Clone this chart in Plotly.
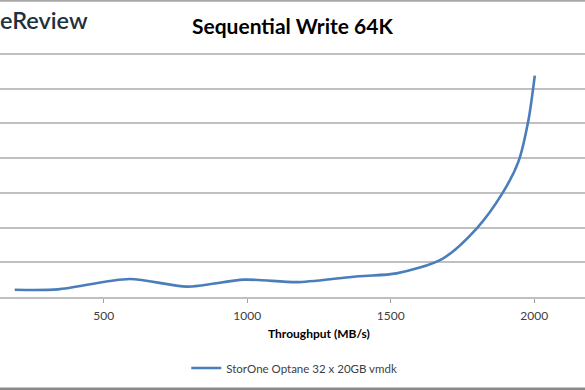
import plotly.graph_objects as go

# Data
throughput = [190, 340, 590, 790, 990, 1180, 1390, 1520, 1680, 1800, 1890, 1945, 1980, 2002]
latency = [0.105, 0.11, 0.26, 0.15, 0.25, 0.215, 0.30, 0.34, 0.55, 0.99, 1.50, 1.95, 2.55, 3.19]
series_name = "StorOne Optane 32 x 20GB vmdk"
x_ticks = [500, 1000, 1500, 2000]
y_grid = [0.5, 1, 1.5, 2, 2.5, 3, 3.5]

W, H = 585, 390
y_max = 3.53
top_px = 54.7 - (y_max - 3.5) / 3.5 * (297.3 - 54.7) / (1 - (y_max - 3.5) / 3.5 * 0)  # approx
bottom = 93
top = 52
plot_h = H - top - bottom

fig = go.Figure()
fig.add_trace(go.Scatter(
    x=throughput, y=latency, mode="lines", name=series_name,
    line=dict(color="#4A7EBB", width=2.6, shape="spline", smoothing=0.8),
))

def py(px):
    return (H - bottom - px) / plot_h

fig.update_layout(
    width=W, height=H,
    margin=dict(l=0, r=0, t=top, b=bottom, autoexpand=False),
    paper_bgcolor="white", plot_bgcolor="white",
    font=dict(family="Lato, Carlito, sans-serif", color="#404040", size=12),
    showlegend=True,
    legend=dict(orientation="h", x=0.503, xanchor="center", y=py(368), yanchor="middle",
                font=dict(size=11.5, color="#404040"), itemwidth=30),
    xaxis=dict(range=[138.7, 2177], tickvals=x_ticks, ticks="outside", ticklen=4,
               tickcolor="#a0a0a0", showgrid=False, zeroline=False,
               showline=True, linecolor="#c0c0c0", linewidth=1.5, ticklabelstandoff=3,
               tickfont=dict(size=12, color="#404040")),
    yaxis=dict(range=[0, y_max], tickvals=y_grid, showticklabels=False,
               showgrid=True, gridcolor="#c0c0c0", gridwidth=1.5, zeroline=False, showline=False),
    annotations=[
        dict(text="<b>Sequential Write 64K</b>", xref="paper", yref="paper",
             x=292 / W, y=py(25), xanchor="center", yanchor="middle", showarrow=False,
             font=dict(size=21, color="#000000", family="Lato, Carlito, sans-serif")),
        dict(text="<b>Throughput (MB/s)</b>", xref="paper", yref="paper",
             x=319.5 / W, y=py(333), xanchor="center", yanchor="middle", showarrow=False,
             font=dict(size=12, color="#000000")),
        dict(text="eReview", xref="paper", yref="paper",
             x=90 / W, y=py(20), xanchor="right", yanchor="middle", showarrow=False,
             font=dict(size=23.5, color="#1f313c", family="Lato, sans-serif", weight=600)),
    ],
    shapes=[
        dict(type="rect", xref="paper", yref="paper", x0=0, x1=1, y0=py(1.8), y1=py(0),
             fillcolor="#a8a8a8", line=dict(width=0), layer="above"),
        dict(type="rect", xref="paper", yref="paper", x0=0, x1=1, y0=py(390), y1=py(387.5),
             fillcolor="#8a8a8a", line=dict(width=0), layer="above"),
    ],
)

fig.write_html("out.html", config={"displayModeBar": False},
               post_script="document.body.style.margin='0';document.body.style.padding='0';")
